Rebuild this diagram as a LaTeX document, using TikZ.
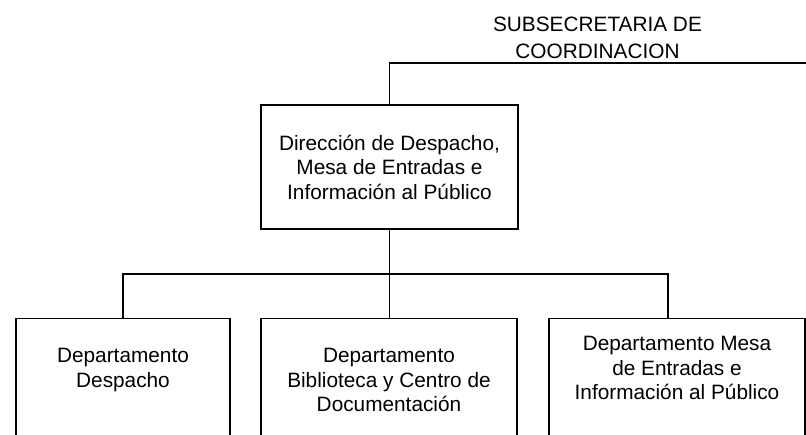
\documentclass[tikz,border=0pt]{standalone}
\usepackage{fontspec}
\setmainfont{Liberation Sans}
\usetikzlibrary{positioning}
\begin{document}
\begin{tikzpicture}[x=1pt,y=-1pt,line width=1.2pt,
        unit/.style={draw,rectangle,inner sep=0pt},
        lbl/.style={align=center,inner sep=0pt,font=\fontsize{20.8}{24.5}\selectfont}]
                \useasboundingbox (0,0) rectangle (806,435);
                \clip (0,0) rectangle (806,435);
                \node[lbl,anchor=north] (subsec) at (597.5,16) {SUBSECRETARIA DE\\[2.5pt]COORDINACION};
                \coordinate (parent) at (806,63);
                \node[unit,lbl,minimum width=257,minimum height=124] (direccion) at (389.5,167) {Dirección de Despacho,\\Mesa de Entradas e\\Información al Público};
                \node[unit,minimum width=214,minimum height=160,anchor=north] (despacho) at (123,318) {};
                \node[unit,minimum width=256,minimum height=160,anchor=north] (biblioteca) at (389,318) {};
                \node[unit,minimum width=256,minimum height=160,anchor=north] (mesa) at (677,318) {};
                \node[lbl,below=30pt of despacho.north] (despachotxt) {Departamento\\Despacho};
                \node[lbl,below=30pt of biblioteca.north] (bibliotecatxt) {Departamento\\Biblioteca y Centro de\\Documentación};
                \node[lbl,below=18pt of mesa.north] (mesatxt) {Departamento Mesa\\de Entradas e\\Información al Público};
                \coordinate (bus) at (0,274);
                \coordinate (mesadrop) at ([xshift=-9pt]mesa.north);
                \draw (direccion.north) |- (parent);
                \draw (direccion.south) -- (direccion.south |- biblioteca.north);
                \draw (despacho.north) |- (mesadrop |- bus) -- (mesadrop);
            \end{tikzpicture}
\end{document}
